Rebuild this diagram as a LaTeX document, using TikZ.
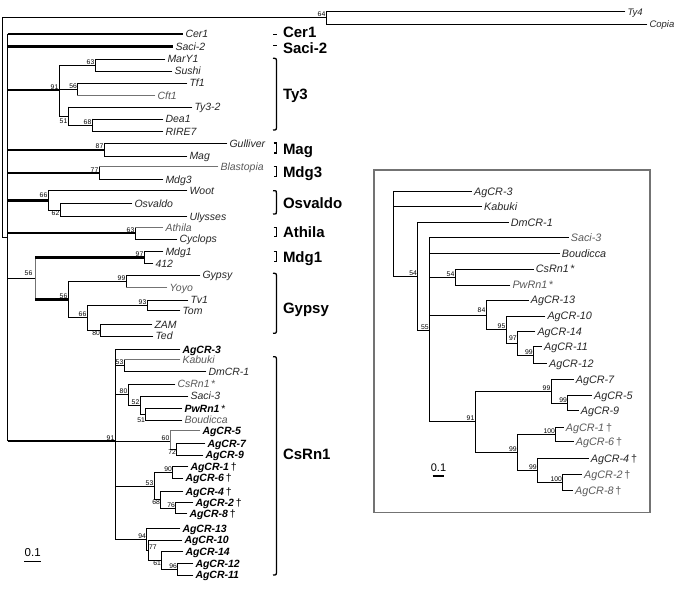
\documentclass[tikz,border=0pt]{standalone}
\usepackage{fontspec}
\setmainfont{Liberation Sans}
\newcommand\spine[3]{\draw[br] (#1 |- #2) -- (#1 |- #3);}
\newcommand\kids[2]{\foreach \ch in {#2}{\draw[br] (#1 |- \ch) -- (\ch);}}
\newcommand\dg{\,{\upshape\mdseries\textdagger}}
\newcommand\astk{\,{\upshape\mdseries*}}
\begin{document}
\begin{tikzpicture}[x=1pt,y=-1pt,
  br/.style={line width=0.9pt, line cap=rect},
  tk/.style={line width=2.4pt, line cap=butt},
  gb/.style={draw=black!55},
  tip/.style={anchor=west, inner xsep=2.5pt, inner ysep=0pt, outer sep=0pt, text height=7.4pt, text depth=0pt, font=\fontsize{10.5}{12}\selectfont\itshape, text=black!85},
  tipb/.style={tip, font=\fontsize{10.5}{12}\selectfont\itshape\bfseries, text=black},
  tipr/.style={tip, font=\fontsize{10.8}{12}\selectfont\itshape},
  tips/.style={tip, font=\fontsize{9.5}{11}\selectfont\itshape},
  lt/.style={text=black!65},
  sup/.style={font=\fontsize{6.8}{7}\selectfont, inner sep=0.7pt, outer sep=0pt, anchor=south east},
  supb/.style={sup, anchor=north east},
  clade/.style={anchor=west, inner sep=0pt, outer sep=0pt, text height=10.7pt, text depth=0pt, font=\fontsize{15}{16}\selectfont\bfseries},
  brk/.style={line width=1.3pt},
]
\useasboundingbox (0,0) rectangle (685,591);

% ---------------- left tree: internal nodes ----------------
\coordinate (R) at (2,17.5);
\coordinate (O) at (326,17.5);
\coordinate (I) at (7.7,237);
\coordinate (a91) at (59,90);
\coordinate (a63) at (95,65.2);
\coordinate (a56) at (77.7,89.5);
\coordinate (a51) at (68,116);
\coordinate (a68) at (92,125.3);
\coordinate (aMag) at (104,149.7);
\coordinate (aMdg3) at (99,173);
\coordinate (a66) at (48,200.4);
\coordinate (a62) at (60,210);
\coordinate (aAth) at (135,233.2);
\coordinate (aMG) at (35,278.5);
\coordinate (a97) at (144,257.5);
\coordinate (aGyp) at (68,299.5);
\coordinate (a99) at (126,281.3);
\coordinate (a66g) at (87,317.7);
\coordinate (a93) at (147,305.3);
\coordinate (a80) at (100.7,330.2);
\coordinate (aCs) at (115,441);
\coordinate (a53) at (124,365.5);
\coordinate (a80c) at (128,394.5);
\coordinate (a52) at (140,405);
\coordinate (a51c) at (145.7,414.2);
\coordinate (a60) at (170,441);
\coordinate (a72) at (176.7,449.2);
\coordinate (a53b) at (154,486);
\coordinate (a90) at (172.7,472.3);
\coordinate (a68c) at (160.7,499.5);
\coordinate (a76) at (175.7,508);
\coordinate (a94) at (146.7,539);
\coordinate (a77) at (148.3,550);
\coordinate (a61) at (161.7,560.5);
\coordinate (a96) at (177.7,569);

% ---------------- left tree: tips ----------------
\node[tips] (L-Ty4) at (625,11.7) {Ty4};
\node[tips] (L-Copia) at (647,24) {Copia};
\node[tip] (L-Cer1) at (183,34.3) {Cer1};
\node[tip] (L-Saci2) at (173,46.7) {Saci-2};
\node[tip] (L-MarY1) at (165,59.3) {MarY1};
\node[tip] (L-Sushi) at (172,71) {Sushi};
\node[tip] (L-Tf1) at (187,83.3) {Tf1};
\node[tip,lt] (L-Cft1) at (155,95.7) {Cft1};
\node[tip] (L-Ty32) at (192,107) {Ty3-2};
\node[tip] (L-Dea1) at (163,119) {Dea1};
\node[tip] (L-RIRE7) at (163,131.7) {RIRE7};
\node[tip] (L-Gulliver) at (227,143.3) {Gulliver};
\node[tip] (L-Mag) at (187,156) {Mag};
\node[tip,lt] (L-Blastopia) at (218,166.7) {Blastopia};
\node[tip] (L-Mdg3) at (163,179.3) {Mdg3};
\node[tip] (L-Woot) at (187,190.7) {Woot};
\node[tip] (L-Osvaldo) at (132,203.3) {Osvaldo};
\node[tip] (L-Ulysses) at (187,216.7) {Ulysses};
\node[tip,lt] (L-Athila) at (163,227.3) {Athila};
\node[tip] (L-Cyclops) at (177,239) {Cyclops};
\node[tip] (L-Mdg1) at (163,251.7) {Mdg1};
\node[tip] (L-412) at (153,263.3) {412};
\node[tip] (L-Gypsy) at (200,275) {Gypsy};
\node[tip,lt] (L-Yoyo) at (167,287.7) {Yoyo};
\node[tip] (L-Tv1) at (188,300) {Tv1};
\node[tip] (L-Tom) at (180,310.7) {Tom};
\node[tip] (L-ZAM) at (152,324.3) {ZAM};
\node[tip] (L-Ted) at (153,336) {Ted};
\node[tipb] (L-AgCR3) at (180,349.3) {AgCR-3};
\node[tip,lt] (L-Kabuki) at (180,359.3) {Kabuki};
\node[tip] (L-DmCR1) at (206,371.7) {DmCR-1};
\node[tip,lt] (L-CsRn1) at (175,384) {CsRn1\astk};
\node[tip] (L-Saci3) at (188,396) {Saci-3};
\node[tipb] (L-PwRn1) at (182,408.3) {PwRn1\astk};
\node[tip,lt] (L-Boudicca) at (182,420) {Boudicca};
\node[tipb] (L-AgCR5) at (200,430.7) {AgCR-5};
\node[tipb] (L-AgCR7) at (205,443.3) {AgCR-7};
\node[tipb] (L-AgCR9) at (203,455) {AgCR-9};
\node[tipb] (L-AgCR1) at (188,466.7) {AgCR-1\dg};
\node[tipb] (L-AgCR6) at (183,478) {AgCR-6\dg};
\node[tipb] (L-AgCR4) at (183,491.7) {AgCR-4\dg};
\node[tipb] (L-AgCR2) at (193,502.7) {AgCR-2\dg};
\node[tipb] (L-AgCR8) at (187,513.3) {AgCR-8\dg};
\node[tipb] (L-AgCR13) at (180,528.3) {AgCR-13};
\node[tipb] (L-AgCR10) at (182,540) {AgCR-10};
\node[tipb] (L-AgCR14) at (183,551.7) {AgCR-14};
\node[tipb] (L-AgCR12) at (193,563.3) {AgCR-12};
\node[tipb] (L-AgCR11) at (193,575) {AgCR-11};

% ---------------- left tree: branches ----------------
\draw[br] (R) -- (O);
\draw[br] (R) |- (I);
\spine{O}{L-Ty4.west}{L-Copia.west}
\kids{O}{L-Ty4.west,L-Copia.west}
\spine{I}{L-Cer1.west}{aCs}
\draw[tk] (I |- L-Cer1.west) -- (L-Cer1.west);
\draw[tk] (I |- L-Saci2.west) -- (L-Saci2.west);
\draw[tk] (I |- a91) -- (a91);
\draw[tk] (I |- aMag) -- (aMag);
\draw[tk] (I |- aMdg3) -- (aMdg3);
\draw[tk] (I |- a66) -- (a66);
\draw[tk] (I |- aAth) -- (aAth);
\draw[br] (I |- aMG) -- (aMG);
\draw[tk] (I |- aCs) -- (aCs);
% Ty3
\spine{a91}{a63}{a51}
\kids{a91}{a63,a56,a51}
\spine{a63}{L-MarY1.west}{L-Sushi.west}
\kids{a63}{L-MarY1.west,L-Sushi.west}
\spine{a56}{L-Tf1.west}{L-Cft1.west}
\kids{a56}{L-Tf1.west}
\draw[br,gb] (a56 |- L-Cft1.west) -- (L-Cft1.west);
\spine{a51}{L-Ty32.west}{a68}
\kids{a51}{L-Ty32.west,a68}
\spine{a68}{L-Dea1.west}{L-RIRE7.west}
\kids{a68}{L-Dea1.west,L-RIRE7.west}
% Mag
\spine{aMag}{L-Gulliver.west}{L-Mag.west}
\kids{aMag}{L-Gulliver.west,L-Mag.west}
% Mdg3
\spine{aMdg3}{L-Blastopia.west}{L-Mdg3.west}
\draw[br,gb] (aMdg3 |- L-Blastopia.west) -- (L-Blastopia.west);
\kids{aMdg3}{L-Mdg3.west}
% Osvaldo
\spine{a66}{L-Woot.west}{a62}
\kids{a66}{L-Woot.west,a62}
\spine{a62}{L-Osvaldo.west}{L-Ulysses.west}
\kids{a62}{L-Osvaldo.west,L-Ulysses.west}
% Athila
\spine{aAth}{L-Athila.west}{L-Cyclops.west}
\draw[br,gb] (aAth |- L-Athila.west) -- (L-Athila.west);
\kids{aAth}{L-Cyclops.west}
% Mdg1 + Gypsy
\draw[br,gb] (aMG |- a97) -- (aMG |- aGyp);
\draw[tk] (aMG |- a97) -- (a97);
\draw[tk] (aMG |- aGyp) -- (aGyp);
\spine{a97}{L-Mdg1.west}{L-412.west}
\kids{a97}{L-Mdg1.west,L-412.west}
\spine{aGyp}{a99}{a66g}
\kids{aGyp}{a99,a66g}
\spine{a99}{L-Gypsy.west}{L-Yoyo.west}
\kids{a99}{L-Gypsy.west}
\draw[br,gb] (a99 |- L-Yoyo.west) -- (L-Yoyo.west);
\spine{a66g}{a93}{a80}
\kids{a66g}{a93,a80}
\spine{a93}{L-Tv1.west}{L-Tom.west}
\kids{a93}{L-Tv1.west,L-Tom.west}
\spine{a80}{L-ZAM.west}{L-Ted.west}
\kids{a80}{L-ZAM.west,L-Ted.west}
% CsRn1
\spine{aCs}{L-AgCR3.west}{a94}
\kids{aCs}{L-AgCR3.west,a53,a80c,a60,a53b,a94}
\spine{a53}{L-Kabuki.west}{L-DmCR1.west}
\draw[br,gb] (a53 |- L-Kabuki.west) -- (L-Kabuki.west);
\kids{a53}{L-DmCR1.west}
\spine{a80c}{L-CsRn1.west}{a52}
\kids{a80c}{L-CsRn1.west,a52}
\spine{a52}{L-Saci3.west}{a51c}
\kids{a52}{L-Saci3.west,a51c}
\spine{a51c}{L-PwRn1.west}{L-Boudicca.west}
\kids{a51c}{L-PwRn1.west,L-Boudicca.west}
\draw[br,gb] (a60 |- L-AgCR5.west) -- (a60 |- a72);
\draw[br,gb] (a60 |- L-AgCR5.west) -- (L-AgCR5.west);
\kids{a60}{a72}
\spine{a72}{L-AgCR7.west}{L-AgCR9.west}
\kids{a72}{L-AgCR7.west,L-AgCR9.west}
\spine{a53b}{a90}{a68c}
\kids{a53b}{a90,a68c}
\spine{a90}{L-AgCR1.west}{L-AgCR6.west}
\kids{a90}{L-AgCR1.west,L-AgCR6.west}
\spine{a68c}{L-AgCR4.west}{a76}
\kids{a68c}{L-AgCR4.west,a76}
\spine{a76}{L-AgCR2.west}{L-AgCR8.west}
\kids{a76}{L-AgCR2.west,L-AgCR8.west}
\spine{a94}{L-AgCR13.west}{a77}
\kids{a94}{L-AgCR13.west,a77}
\spine{a77}{L-AgCR10.west}{a61}
\kids{a77}{L-AgCR10.west,a61}
\spine{a61}{L-AgCR14.west}{a96}
\kids{a61}{L-AgCR14.west,a96}
\spine{a96}{L-AgCR12.west}{L-AgCR11.west}
\kids{a96}{L-AgCR12.west,L-AgCR11.west}

% ---------------- left tree: support values ----------------
\node[sup] (s-O) at (O) {64};
\node[sup] (s-a91) at (a91) {91};
\node[sup] (s-a63) at (a63) {63};
\node[sup] (s-a56) at (a56) {56};
\node[supb,yshift=-2pt] (s-a51) at (a51) {51};
\node[sup] (s-a68) at (a68) {68};
\node[sup] (s-aMag) at (aMag) {87};
\node[sup] (s-aMdg3) at (aMdg3) {77};
\node[sup,yshift=2pt] (s-a66) at (a66) {66};
\node[supb] (s-a62) at (a62) {62};
\node[sup] (s-aAth) at (aAth) {63};
\node[sup,xshift=-2pt,yshift=2pt] (s-aMG) at (aMG) {56};
\node[sup] (s-a97) at (a97) {97};
\node[sup] (s-aGyp) at (aGyp) {56};
\node[sup] (s-a99) at (a99) {99};
\node[sup] (s-a66g) at (a66g) {66};
\node[sup] (s-a93) at (a93) {93};
\node[supb] (s-a80) at (a80) {80};
\node[sup] (s-aCs) at (aCs) {91};
\node[sup] (s-a53) at (a53) {53};
\node[sup] (s-a80c) at (a80c) {80};
\node[sup] (s-a52) at (a52) {52};
\node[supb,yshift=-3pt] (s-a51c) at (a51c) {51};
\node[sup] (s-a60) at (a60) {60};
\node[supb] (s-a72) at (a72) {72};
\node[sup] (s-a53b) at (a53b) {53};
\node[sup] (s-a90) at (a90) {90};
\node[supb] (s-a68c) at (a68c) {68};
\node[sup] (s-a76) at (a76) {76};
\node[sup] (s-a94) at (a94) {94};
\node[sup,anchor=south west] (s-a77) at (a77) {77};
\node[supb] (s-a61) at (a61) {61};
\node[sup] (s-a96) at (a96) {96};

% ---------------- brackets and clade names ----------------
\draw[brk] (273,34.3) -- (276.5,34.3);
\draw[brk] (273,45.7) -- (276.5,45.7);
\draw[brk] (273,58.3) .. controls (276.5,58.3) .. (276.5,63) -- (276.5,125.3) .. controls (276.5,130) .. (273,130);
\draw[brk] (273.5,143) -- (276.5,143) -- (276.5,153) -- (273.5,153);
\draw[brk] (273.5,166.7) -- (276.5,166.7) -- (276.5,176.7) -- (273.5,176.7);
\draw[brk] (273,190.7) .. controls (276.5,190.7) .. (276.5,193.5) -- (276.5,211.2) .. controls (276.5,214) .. (273,214);
\draw[brk] (273.5,227.3) -- (276.5,227.3) -- (276.5,236.7) -- (273.5,236.7);
\draw[brk] (273.5,251.7) -- (276.5,251.7) -- (276.5,261.7) -- (273.5,261.7);
\draw[brk] (273,273.3) .. controls (276.5,273.3) .. (276.5,278) -- (276.5,328.6) .. controls (276.5,333.3) .. (273,333.3);
\draw[brk] (273,356.7) .. controls (276.5,356.7) .. (276.5,361.5) -- (276.5,570.2) .. controls (276.5,575) .. (273,575);
\node[clade] (c-Cer1) at (283,32) {Cer1};
\node[clade] (c-Saci2) at (283,48) {Saci-2};
\node[clade] (c-Ty3) at (283,94) {Ty3};
\node[clade] (c-Mag) at (283,149) {Mag};
\node[clade] (c-Mdg3) at (283,172) {Mdg3};
\node[clade] (c-Osvaldo) at (283,203.3) {Osvaldo};
\node[clade] (c-Athila) at (283,231.7) {Athila};
\node[clade] (c-Mdg1) at (283,257.5) {Mdg1};
\node[clade] (c-Gypsy) at (283,308) {Gypsy};
\node[clade] (c-CsRn1) at (283,454) {CsRn1};

% ---------------- left scale bar ----------------
\node[font=\fontsize{11.5}{13}\selectfont, inner sep=0pt] (sbL) at (32.7,552.3) {0.1};
\coordinate (sbL1) at (24,561.7);
\coordinate (sbL2) at (40.7,561.7);
\draw[line width=1.4pt] (sbL1) -- (sbL2);

% ---------------- right panel ----------------
\draw[draw=black!55, line width=1.5pt] (374,170) rectangle (650,512.7);

\coordinate (bR) at (393.3,233.8);
\coordinate (b54) at (417.7,276);
\coordinate (b55) at (429.3,330);
\coordinate (b54b) at (455,277);
\coordinate (b84) at (486,315);
\coordinate (b95) at (506,329);
\coordinate (b97) at (517.3,343.3);
\coordinate (b99a) at (533.3,355);
\coordinate (b91) at (475,421.7);
\coordinate (b99b) at (551,391);
\coordinate (b99c) at (567.7,403.2);
\coordinate (b99d) at (517.3,452.3);
\coordinate (b100a) at (555.7,434.5);
\coordinate (b99e) at (537.3,470);
\coordinate (b100b) at (562.7,482.5);

\node[tipr] (R-AgCR3) at (471.7,191.7) {AgCR-3};
\node[tipr] (R-Kabuki) at (481.7,206.7) {Kabuki};
\node[tipr] (R-DmCR1) at (508.3,222.7) {DmCR-1};
\node[tipr,lt] (R-Saci3) at (568.3,237.7) {Saci-3};
\node[tipr] (R-Boudicca) at (559.3,253.3) {Boudicca};
\node[tipr] (R-CsRn1) at (533.3,269) {CsRn1\astk};
\node[tipr,lt] (R-PwRn1) at (510,285) {PwRn1\astk};
\node[tipr] (R-AgCR13) at (528.3,300) {AgCR-13};
\node[tipr] (R-AgCR10) at (545,316) {AgCR-10};
\node[tipr] (R-AgCR14) at (535,331.7) {AgCR-14};
\node[tipr] (R-AgCR11) at (541.7,346.7) {AgCR-11};
\node[tipr] (R-AgCR12) at (546.7,363.3) {AgCR-12};
\node[tipr] (R-AgCR7) at (573.3,379.3) {AgCR-7};
\node[tipr] (R-AgCR5) at (591.7,395.7) {AgCR-5};
\node[tipr] (R-AgCR9) at (578.3,410.7) {AgCR-9};
\node[tipr,lt] (R-AgCR1) at (563.3,427.3) {AgCR-1\dg};
\node[tipr,lt] (R-AgCR6) at (573.3,441.7) {AgCR-6\dg};
\node[tipr] (R-AgCR4) at (588.3,458.3) {AgCR-4\dg};
\node[tipr,lt] (R-AgCR2) at (581.7,474.3) {AgCR-2\dg};
\node[tipr,lt] (R-AgCR8) at (572.7,490.7) {AgCR-8\dg};

\spine{bR}{R-AgCR3.west}{b54}
\kids{bR}{R-AgCR3.west,R-Kabuki.west,b54}
\spine{b54}{R-DmCR1.west}{b55}
\kids{b54}{R-DmCR1.west,b55}
\spine{b55}{R-Saci3.west}{b91}
\kids{b55}{R-Saci3.west,R-Boudicca.west,b54b,b84,b91}
\spine{b54b}{R-CsRn1.west}{R-PwRn1.west}
\kids{b54b}{R-CsRn1.west,R-PwRn1.west}
\spine{b84}{R-AgCR13.west}{b95}
\kids{b84}{R-AgCR13.west,b95}
\spine{b95}{R-AgCR10.west}{b97}
\kids{b95}{R-AgCR10.west,b97}
\spine{b97}{R-AgCR14.west}{b99a}
\kids{b97}{R-AgCR14.west,b99a}
\spine{b99a}{R-AgCR11.west}{R-AgCR12.west}
\kids{b99a}{R-AgCR11.west,R-AgCR12.west}
\spine{b91}{b99b}{b99d}
\kids{b91}{b99b,b99d}
\spine{b99b}{R-AgCR7.west}{b99c}
\kids{b99b}{R-AgCR7.west,b99c}
\spine{b99c}{R-AgCR5.west}{R-AgCR9.west}
\kids{b99c}{R-AgCR5.west,R-AgCR9.west}
\spine{b99d}{b100a}{b99e}
\kids{b99d}{b100a,b99e}
\spine{b100a}{R-AgCR1.west}{R-AgCR6.west}
\kids{b100a}{R-AgCR1.west,R-AgCR6.west}
\spine{b99e}{R-AgCR4.west}{b100b}
\kids{b99e}{R-AgCR4.west,b100b}
\spine{b100b}{R-AgCR2.west}{R-AgCR8.west}
\kids{b100b}{R-AgCR2.west,R-AgCR8.west}

\node[sup] (s-b54) at (b54) {54};
\node[sup] (s-b55) at (b55) {55};
\node[sup] (s-b54b) at (b54b) {54};
\node[sup,yshift=2pt] (s-b84) at (b84) {84};
\node[sup] (s-b95) at (b95) {95};
\node[sup,yshift=2pt] (s-b97) at (b97) {97};
\node[sup] (s-b99a) at (b99a) {99};
\node[sup] (s-b91) at (b91) {91};
\node[sup] (s-b99b) at (b99b) {99};
\node[sup] (s-b99c) at (b99c) {99};
\node[sup] (s-b99d) at (b99d) {99};
\node[sup] (s-b100a) at (b100a) {100};
\node[sup] (s-b99e) at (b99e) {99};
\node[sup] (s-b100b) at (b100b) {100};

\node[font=\fontsize{11}{13}\selectfont, inner sep=0pt] (sbR) at (438.5,468) {0.1};
\coordinate (sbR1) at (432.7,476);
\coordinate (sbR2) at (444,476);
\draw[line width=1.4pt] (sbR1) -- (sbR2);
\end{tikzpicture}
\end{document}
